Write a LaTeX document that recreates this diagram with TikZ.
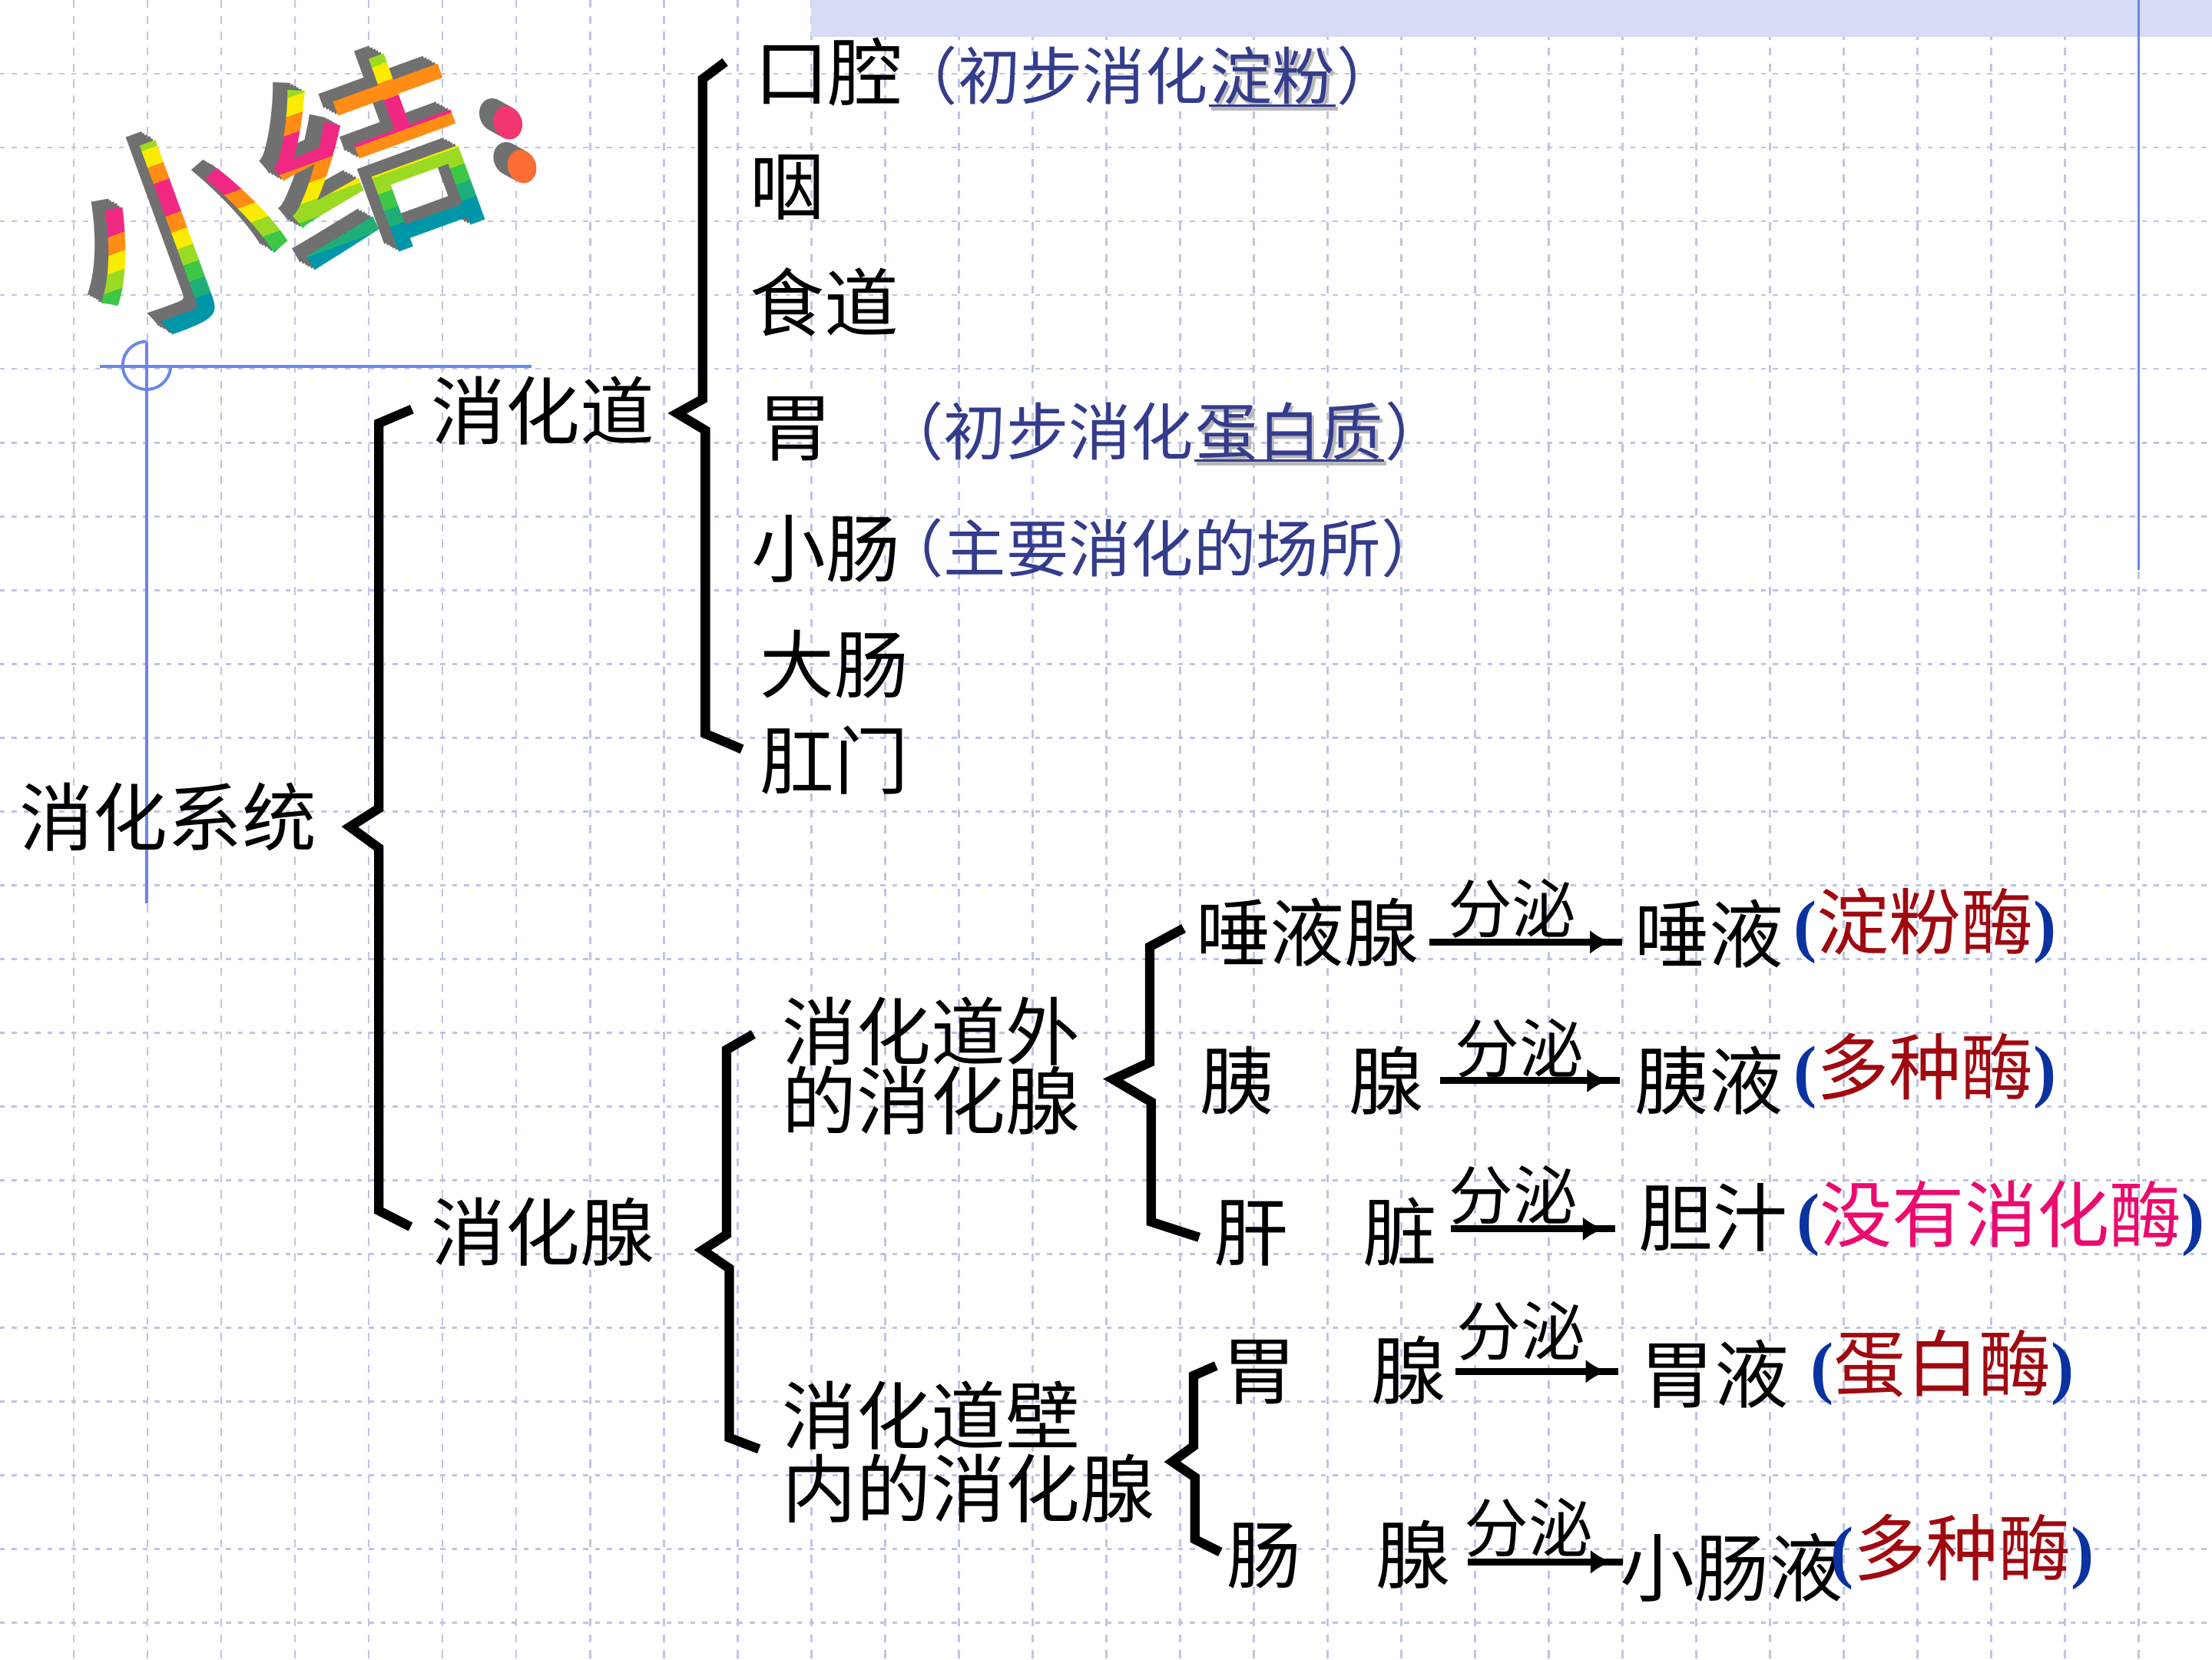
\documentclass[tikz,border=0pt]{standalone}
\usepackage{fontspec}
\setmainfont{Noto Sans CJK SC}
\newfontfamily\cjkfont{Noto Sans CJK SC}
\newfontfamily\parenfam{Liberation Serif}
\usetikzlibrary{arrows.meta,decorations.markings,calc}

\definecolor{gridc}{RGB}{190,197,228}
\definecolor{bandc}{RGB}{214,220,245}
\definecolor{decob}{RGB}{105,135,230}
\definecolor{bluetxt}{RGB}{52,60,140}
\definecolor{enzred}{RGB}{160,8,16}
\definecolor{enzmag}{RGB}{236,10,110}
\definecolor{parblue}{RGB}{10,50,160}
\definecolor{cT}{RGB}{0,150,170}
\definecolor{cG}{RGB}{60,200,70}
\definecolor{cY}{RGB}{250,235,0}
\definecolor{cO}{RGB}{255,140,20}
\definecolor{cM}{RGB}{240,40,130}
\definecolor{extr}{RGB}{112,112,112}

\newcommand\blkfont{\cjkfont\fontsize{15}{15}\selectfont}
\newcommand\blufont{\cjkfont\fontsize{12.6}{12.6}\selectfont}
\newcommand\fenfont{\cjkfont\fontsize{13}{13}\selectfont}
\newcommand\enzfont{\cjkfont\fontsize{14.6}{14.6}\selectfont}
\newcommand\parfont{\parenfam\bfseries\fontsize{14}{14}\selectfont}
\newcommand\ttlfont{\cjkfont\fontsize{42}{42}\selectfont}
\newcommand\enz[2]{{\parfont\color{parblue}(}{\enzfont\color{#1}#2}{\parfont\color{parblue})}}

\begin{document}
\begin{tikzpicture}[x=0.1mm,y=-0.1mm,
  gridv/.style={gridc, line width=0.45pt, dash pattern=on 1.6pt off 1.6pt},
  gridh/.style={gridc, line width=0.45pt, dash pattern=on 1pt off 1.4pt},
  decoln/.style={decob, line width=0.6pt},
  brk/.style={line width=1.9pt, line join=miter},
  blk/.style={inner sep=0pt, anchor=west, font=\blkfont},
  blu/.style={inner sep=0pt, text=bluetxt, font=\blufont},
  fen/.style={inner sep=0pt, font=\fenfont},
  enzn/.style={inner sep=0pt, anchor=west},
  ul/.style={bluetxt, line width=0.5pt},
  ulsh/.style={gray!55, line width=0.9pt},
  arr/.style={line width=1.4pt, postaction=decorate,
    decoration={markings, mark=at position -0.8mm with {\arrow{Latex[length=1.5mm,width=1.7mm]}}}},
  ttl/.style={inner sep=0pt, font=\ttlfont}
]
\useasboundingbox (0,0) rectangle (1568,1176);
\fill[white] (0,0) rectangle (1568,1176);

% grid
\foreach \k in {1,...,29} \draw[gridv] ({\k*52.27},0) -- ({\k*52.27},1176);
\foreach \k in {1,...,22} \draw[gridh] (0,{\k*52.27}) -- (1568,{\k*52.27});

% top band
\fill[bandc] (575,0) rectangle (1568,26);

% blue decorations
\draw[decoln] (1516,0) -- (1516,404);
\draw[decoln] (71,259.5) -- (377,259.5);
\draw[decoln] (104,242) -- (104,640);
\draw[decoln] (104,242) arc[start angle=270,end angle=0,radius=17];

% title extrusion
\foreach \d in {5,...,1} {
  \node[ttl, rotate=20, text=extr] at ({196-2*\d},{138-1.1*\d}) {小结};
  \fill[extr, rotate around={20:({360-2*\d},{87-1.1*\d})}] ({360-2*\d},{87-1.1*\d}) ellipse [x radius=10, y radius=12];
  \fill[extr, rotate around={20:({370-2*\d},{118-1.1*\d})}] ({370-2*\d},{118-1.1*\d}) ellipse [x radius=10, y radius=12];
}
% title colour bands
\begin{scope}[shift={(196,138)}, rotate=20]
  \foreach \c [count=\i] in {cG!50!cY,cY,cO,cM,cM,cO,cY,cY!50!cG,cG,cG!50!cT,cT,cT} {
    \begin{scope}
      \clip (-170,{-74+(\i-1)*12.3}) rectangle (170,{-74+\i*12.3+0.4});
      \node[ttl, transform shape, text=\c] (title\i) at (0,0) {小结};
    \end{scope}
  }
\end{scope}
\fill[cM!85!cO, rotate around={20:(360,87)}] (360,87) ellipse [x radius=10, y radius=12];
\fill[cO!70!cM, rotate around={20:(370,118)}] (370,118) ellipse [x radius=10, y radius=12];

% braces
\draw[brk] (292,290) -- (268.5,300) -- (268.5,573) -- (248,586) -- (268.5,601) -- (268.5,858) -- (291,869.5);
\draw[brk] (514,44) -- (498,56) -- (498,283) -- (480,293) -- (500,305) -- (500,520) -- (526,531);
\draw[brk] (534,733) -- (515,744) -- (515,875) -- (498,886) -- (517,899) -- (517,1019) -- (538,1027);
\draw[brk] (839,658) -- (815,671) -- (815,753) -- (789,765) -- (816,781) -- (816,866) -- (850,877);
\draw[brk] (862,968) -- (846,975) -- (846,1025) -- (831,1036) -- (847,1047) -- (847,1091) -- (865,1100);

% left levels
\node[blk] (xhxt) at (13,579) {消化系统};
\node[blk] (xhd) at (305,291) {消化道};
\node[blk] (xhx) at (305,873) {消化腺};

% digestive tract
\node[blk] (kq) at (534,51) {口腔};
\node[blk] (yan) at (531,133) {咽};
\node[blk] (sd) at (531,214) {食道};
\node[blk] (wei) at (537,304) {胃};
\node[blk] (xc) at (532,389) {小肠};
\node[blk] (dc) at (538,471) {大肠};
\node[blk] (gm) at (538,539) {肛门};

% blue notes
\node[blu, anchor=base west] (b1a) at (634,70.5) {（初步消化};
\node[blu, anchor=base west, text=gray!55] (b1s) at ([shift={(2,2)}]b1a.base east) {淀粉};
\node[blu, anchor=base west] (b1b) at (b1a.base east) {淀粉};
\node[blu, anchor=base west] (b1c) at (b1b.base east) {）};
\draw[ulsh] ([shift={(1.5,6.5)}]b1b.base west) -- ([shift={(1.5,6.5)}]b1b.base east);
\draw[ul] ([shift={(0,4.5)}]b1b.base west) -- ([shift={(0,4.5)}]b1b.base east);

\node[blu, anchor=base west] (b2a) at (624,322.5) {（初步消化};
\node[blu, anchor=base west, text=gray!55] (b2s) at ([shift={(2,2)}]b2a.base east) {蛋白质};
\node[blu, anchor=base west] (b2b) at (b2a.base east) {蛋白质};
\node[blu, anchor=base west] (b2c) at (b2b.base east) {）};
\draw[ulsh] ([shift={(1.5,6)}]b2b.base west) -- ([shift={(1.5,6)}]b2b.base east);
\draw[ul] ([shift={(0,4)}]b2b.base west) -- ([shift={(0,4)}]b2b.base east);

\node[blu, anchor=base west] (b3) at (624,405.5) {（主要消化的场所）};

% digestive glands
\node[blk, align=left, font={\cjkfont\fontsize{15}{13.9}\selectfont}] (dwai) at (554,755.5) {消化道外\\的消化腺};
\node[blk, align=left, font={\cjkfont\fontsize{15}{14.8}\selectfont}] (dbi) at (554,1029) {消化道壁\\内的消化腺};

\node[blk] (tyx) at (847,661) {唾液腺};
\node[blk] (yx) at (850,766) {胰　腺};
\node[blk] (gz) at (860,873) {肝　脏};
\node[blk] (wx) at (866,971) {胃　腺};
\node[blk] (cx) at (869,1102) {肠　腺};

\node[blk] (ty) at (1158,662) {唾液};
\node[blk] (yy) at (1158,766) {胰液};
\node[blk] (dz) at (1161,863) {胆汁};
\node[blk] (wy) at (1162,974) {胃液};
\node[blk] (xcy) at (1148,1111) {小肠液};

% arrows
\coordinate (a1) at ($(tyx.east)+(6.5,6.7)$);
\draw[arr] (a1) -- ($(a1 -| ty.west)+(-8,0)$);
\coordinate (a2) at ($(yx.east)+(11,0)$);
\draw[arr] (a2) -- ($(a2 -| yy.west)+(-10,0)$);
\coordinate (a3) at ($(gz.east)+(9,-2)$);
\draw[arr] (a3) -- ($(a3 -| dz.west)+(-16,0)$);
\coordinate (a4) at ($(wx.east)+(6,1)$);
\draw[arr] (a4) -- ($(a4 -| wy.west)+(-15,0)$);
\coordinate (a5) at ($(cx.east)+(12,5)$);
\draw[arr] (a5) -- ($(a5 -| xcy.west)+(2.5,0)$);

\node[fen] (f1) at (1072,644) {分泌};
\node[fen] (f2) at (1077,743) {分泌};
\node[fen] (f3) at (1073,847) {分泌};
\node[fen] (f4) at (1078,943.5) {分泌};
\node[fen] (f5) at (1083.5,1083) {分泌};

% enzymes
\node[enzn] (e1) at (1270.6,656) {\enz{enzred}{淀粉酶}};
\node[enzn] (e2) at (1270.6,759) {\enz{enzred}{多种酶}};
\node[enzn] (e3) at (1273,864) {\enz{enzmag}{没有消化酶}};
\node[enzn] (e4) at (1283,969.5) {\enz{enzred}{蛋白酶}};
\node[enzn] (e5) at (1297,1100) {\enz{enzred}{多种酶}};
\end{tikzpicture}
\end{document}
